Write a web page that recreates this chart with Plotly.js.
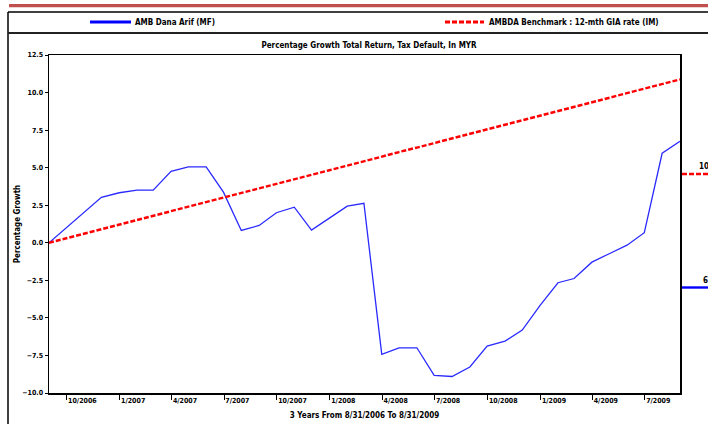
<!DOCTYPE html>
<html>
<head>
<meta charset="utf-8">
<script src="https://cdn.plot.ly/plotly-3.0.1.min.js"></script>
<style>
  html, body { margin: 0; padding: 0; background: #ffffff; }
  #chart { width: 708px; height: 424px; }
</style>
</head>
<body>
<div id="chart"></div>
<script>
// ---- data ----
var dates = [
  '2006-08-31','2006-09-30','2006-10-31','2006-11-30','2006-12-31',
  '2007-01-31','2007-02-28','2007-03-31','2007-04-30','2007-05-31','2007-06-30',
  '2007-07-31','2007-08-31','2007-09-30','2007-10-31','2007-11-30','2007-12-31',
  '2008-01-31','2008-02-29','2008-03-31','2008-04-30','2008-05-31','2008-06-30',
  '2008-07-31','2008-08-31','2008-09-30','2008-10-31','2008-11-30','2008-12-31',
  '2009-01-31','2009-02-28','2009-03-31','2009-04-30','2009-05-31','2009-06-30',
  '2009-07-31','2009-08-31'
];
var fundName = 'AMB Dana Arif (MF)';
var benchName = 'AMBDA Benchmark : 12-mth GIA rate (IM)';
var fundValues = [
  0.00, 1.00, 2.00, 3.03, 3.33, 3.50, 3.50, 4.76, 5.05, 5.05, 3.37,
  0.82, 1.15, 2.00, 2.37, 0.84, 1.64, 2.44, 2.63, -7.43, -6.99, -6.99,
  -8.83, -8.90, -8.27, -6.88, -6.55, -5.81, -4.17, -2.66, -2.38, -1.29,
  -0.73, -0.16, 0.67, 5.96, 6.76
];
var benchValues = [
  0.00, 0.30, 0.60, 0.91, 1.21, 1.51, 1.81, 2.11, 2.42, 2.72, 3.02,
  3.32, 3.62, 3.93, 4.23, 4.53, 4.83, 5.13, 5.44, 5.74, 6.04, 6.34,
  6.64, 6.95, 7.25, 7.55, 7.85, 8.15, 8.46, 8.76, 9.06, 9.36, 9.66,
  9.97, 10.27, 10.57, 10.87
];
var tickDates = ['2006-10-01','2007-01-01','2007-04-01','2007-07-01','2007-10-01','2008-01-01',
                 '2008-04-01','2008-07-01','2008-10-01','2009-01-01','2009-04-01','2009-07-01'];
var tickLabels = ['10/2006','1/2007','4/2007','7/2007','10/2007','1/2008',
                  '4/2008','7/2008','10/2008','1/2009','4/2009','7/2009'];
var endLabels = ['10.87', '6.76'];
var chartTitle = 'Percentage Growth Total Return, Tax Default, In MYR';
var xTitle = '3 Years From 8/31/2006 To 8/31/2009';
var yTitle = 'Percentage Growth';

// ---- layout helpers (pixel -> paper) ----
var WIDTH = 708, HEIGHT = 424;
var L = 49, R = 680, T = 55, B = 393;
var PW = R - L, PH = B - T;
function X(px) { return (px - L) / PW; }
function Y(py) { return (B - py) / PH; }

var FONT = 'Liberation Sans Narrow, Arial Narrow, DejaVu Sans Condensed, Arial, sans-serif';
var BLUE = '#2a2aff';
var RED = '#ff0000';

var traces = [
  { x: dates, y: fundValues, name: fundName, type: 'scatter', mode: 'lines',
    line: { color: BLUE, width: 1.3 }, showlegend: false, hoverinfo: 'skip' },
  { x: dates, y: benchValues, name: benchName, type: 'scatter', mode: 'lines',
    line: { color: RED, width: 2.4, dash: '5px,2px' }, showlegend: false, hoverinfo: 'skip' }
];

var shapes = [
  { type: 'rect', xref: 'paper', yref: 'paper', x0: X(9), x1: X(710), y0: Y(7.3), y1: Y(4),
    fillcolor: '#c0504d', line: { width: 0 }, layer: 'above' },
  { type: 'line', xref: 'paper', yref: 'paper', x0: X(8), x1: X(710), y0: Y(12), y1: Y(12),
    line: { color: '#000000', width: 1.5 } },
  { type: 'line', xref: 'paper', yref: 'paper', x0: X(8), x1: X(8), y0: Y(12), y1: Y(426),
    line: { color: '#000000', width: 1.5 } },
  { type: 'line', xref: 'paper', yref: 'paper', x0: X(8), x1: X(710), y0: Y(33), y1: Y(33),
    line: { color: '#222222', width: 2 } },
  { type: 'line', xref: 'paper', yref: 'paper', x0: X(90), x1: X(131), y0: Y(22), y1: Y(22),
    line: { color: '#0000ff', width: 3 } },
  { type: 'line', xref: 'paper', yref: 'paper', x0: X(445), x1: X(484), y0: Y(22), y1: Y(22),
    line: { color: RED, width: 3, dash: '5px,2px' } },
  { type: 'line', xref: 'paper', yref: 'paper', x0: X(682), x1: X(710), y0: Y(174), y1: Y(174),
    line: { color: RED, width: 2.4, dash: '5px,2px' } },
  { type: 'line', xref: 'paper', yref: 'paper', x0: X(682), x1: X(710), y0: Y(287.5), y1: Y(287.5),
    line: { color: '#0000ff', width: 2.4 } }
];

var annFont = { family: FONT, size: 8, color: '#000000', weight: 'bold' };
var annotations = [
  { xref: 'paper', yref: 'paper', x: X(133), y: Y(22), xanchor: 'left', yanchor: 'middle',
    text: fundName, showarrow: false, font: annFont },
  { xref: 'paper', yref: 'paper', x: X(487), y: Y(22), xanchor: 'left', yanchor: 'middle',
    text: benchName, showarrow: false, font: annFont },
  { xref: 'paper', yref: 'paper', x: X(697), y: Y(173), xanchor: 'left', yanchor: 'bottom',
    text: endLabels[0], showarrow: false, font: annFont },
  { xref: 'paper', yref: 'paper', x: X(701), y: Y(286.5), xanchor: 'left', yanchor: 'bottom',
    text: endLabels[1], showarrow: false, font: annFont }
];

var tickFont = { family: FONT, size: 7, color: '#000000', weight: 'bold' };
var titleFont = { family: FONT, size: 8, color: '#000000', weight: 'bold' };

var layout = {
  width: WIDTH, height: HEIGHT,
  margin: { l: L, r: WIDTH - R, t: T, b: HEIGHT - B, pad: 0 },
  paper_bgcolor: '#ffffff', plot_bgcolor: '#ffffff',
  font: { family: FONT, size: 7, color: '#000000', weight: 'bold' },
  title: { text: chartTitle, xref: 'container', yref: 'container',
           x: 369 / WIDTH, y: 1 - 45 / HEIGHT, xanchor: 'center', yanchor: 'middle',
           font: titleFont },
  xaxis: {
    type: 'date', range: ['2006-08-31', '2009-08-31'],
    tickmode: 'array', tickvals: tickDates, ticktext: tickLabels,
    ticks: 'outside', ticklen: 5, tickwidth: 1, tickcolor: '#000000',
    ticklabelposition: 'outside right',
    tickfont: tickFont,
    showgrid: false, zeroline: false,
    showline: true, linecolor: '#000000', linewidth: 1.5, mirror: true,
    title: { text: xTitle, standoff: 8, font: titleFont }
  },
  yaxis: {
    range: [-10, 12.5], dtick: 2.5, tick0: 0, tickformat: '.1f',
    ticks: 'outside', ticklen: 3, tickwidth: 1, tickcolor: '#000000',
    tickfont: tickFont,
    showgrid: false, zeroline: false,
    showline: true, linecolor: '#000000', linewidth: 1.5, mirror: true,
    title: { text: yTitle, standoff: 0, font: titleFont }
  },
  shapes: shapes,
  annotations: annotations,
  showlegend: false
};

Plotly.newPlot('chart', traces, layout, { staticPlot: true, displayModeBar: false });
</script>
</body>
</html>
